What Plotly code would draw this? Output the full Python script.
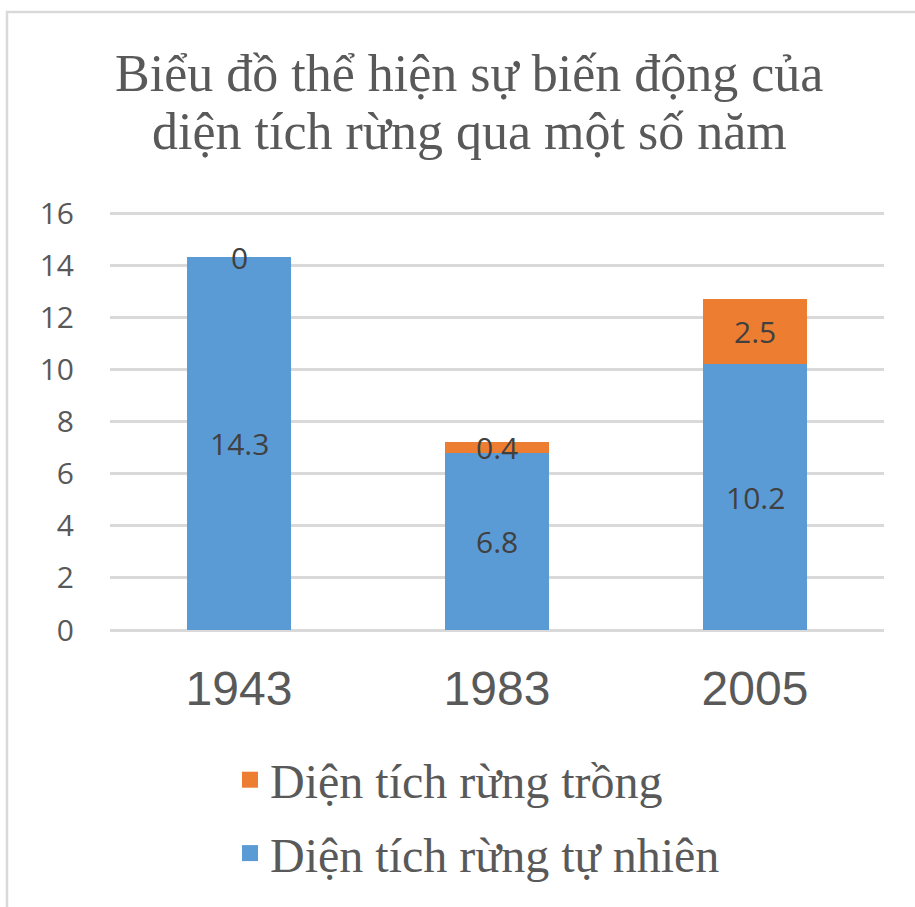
import plotly.graph_objects as go

years = ["1943", "1983", "2005"]
natural = [14.3, 6.8, 10.2]
planted = [0, 0.4, 2.5]
series_names = ["Diện tích rừng tự nhiên", "Diện tích rừng trồng"]
y_ticks = [0, 2, 4, 6, 8, 10, 12, 14, 16]
title_lines = ["Biểu đồ thể hiện sự biến động của", "diện tích rừng qua một số năm"]

BLUE = "#5B9BD5"
ORANGE = "#ED7D31"
GRAY_TXT = "#595959"
LABEL_TXT = "#404040"
GRID = "#D9D9D9"

W, H = 915, 907
L, R, T, B = 110, 31, 211, 277
PW, PH = W - L - R, H - T - B
YMAX = 16.08


def px_to_py(py):
    return (H - B - py) / PH


def px_to_px(px):
    return (px - L) / PW


fig = go.Figure()
fig.add_trace(go.Bar(x=years, y=natural, name=series_names[0], marker_color=BLUE,
                     marker_line_width=0, width=0.4, showlegend=False, hoverinfo="skip"))
fig.add_trace(go.Bar(x=years, y=planted, name=series_names[1], marker_color=ORANGE,
                     marker_line_width=0, width=0.4, showlegend=False, hoverinfo="skip"))

# legend entries (square markers); orange listed first as in the reference
fig.add_trace(go.Scatter(x=[None], y=[None], mode="markers", name=series_names[1],
                         marker=dict(symbol="square", size=16, color=ORANGE),
                         legendgroup="b", legendrank=1))
fig.add_trace(go.Scatter(x=[None], y=[None], mode="markers", name=series_names[0],
                         marker=dict(symbol="square", size=16, color=BLUE),
                         legendgroup="a", legendrank=2))

# data labels centered in each segment
mid_nat = [v / 2 for v in natural]
mid_pl = [n + p / 2 for n, p in zip(natural, planted)]
lab_font = dict(family="Open Sans, Noto Sans, sans-serif", size=30, color=LABEL_TXT)
for ys, vals in [(mid_nat, natural), (mid_pl, planted)]:
    for i, (yv, v) in enumerate(zip(ys, vals)):
        fig.add_annotation(x=i, y=yv, xref="x", yref="y", text=str(v), showarrow=False,
                           xanchor="center", yanchor="middle", yshift=0, font=lab_font)

# chart frame (partially cropped on the right / bottom)
fig.add_shape(type="rect", xref="paper", yref="paper",
              x0=px_to_px(7), x1=px_to_px(W + 40),
              y0=px_to_py(H + 40), y1=px_to_py(12),
              line=dict(color=GRID, width=2.5), fillcolor="rgba(0,0,0,0)", layer="below")

# title (two lines)
title_font = dict(family="Liberation Serif, Times New Roman, serif", size=52, color=GRAY_TXT)
for txt, cx, cy in [(title_lines[0], 468.5, 73), (title_lines[1], 469.5, 131)]:
    fig.add_annotation(text=txt, xref="paper", yref="paper", x=px_to_px(cx), y=px_to_py(cy),
                       xanchor="center", yanchor="middle", showarrow=False, font=title_font)

fig.update_layout(
    width=W, height=H,
    margin=dict(l=L, r=R, t=T, b=B, autoexpand=False),
    paper_bgcolor="white", plot_bgcolor="white",
    barmode="stack",
    hovermode=False,
    xaxis=dict(type="category", categoryorder="array", categoryarray=years,
               range=[-0.5, len(years) - 0.5],
               showgrid=False, showline=False, zeroline=False, ticks="",
               tickfont=dict(family="Liberation Sans, Arial, sans-serif", size=48, color=GRAY_TXT),
               ticklabelstandoff=26),
    yaxis=dict(range=[0, YMAX], tickvals=y_ticks, showgrid=True, gridcolor=GRID, gridwidth=2.5,
               zeroline=True, zerolinecolor=GRID, zerolinewidth=2.5, showline=False, ticks="",
               tickfont=dict(family="Open Sans, Noto Sans, sans-serif", size=30, color=GRAY_TXT),
               ticklabelstandoff=35),
    legend=dict(orientation="v", traceorder="grouped", x=px_to_px(230), xanchor="left",
                y=px_to_py(742), yanchor="top", tracegroupgap=8,
                font=dict(family="Liberation Serif, Times New Roman, serif", size=48, color=GRAY_TXT),
                bgcolor="rgba(0,0,0,0)"),
    showlegend=True,
)

fig.write_html("out.html", config={"displayModeBar": False},
               post_script="document.body.style.margin='0';")
